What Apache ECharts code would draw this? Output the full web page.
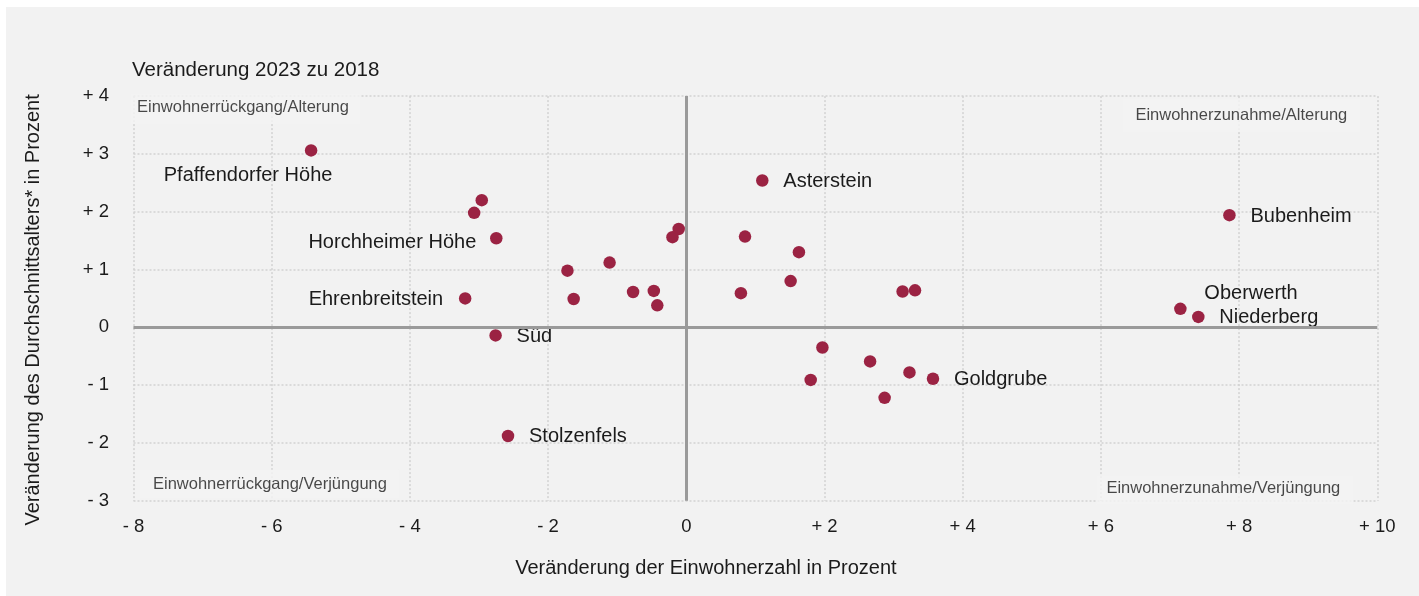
<!DOCTYPE html>
<html lang="de">
<head>
<meta charset="utf-8">
<title>Veränderung 2023 zu 2018</title>
<script src="https://cdn.jsdelivr.net/npm/echarts@6/dist/echarts.min.js"></script>
<style>
  html, body { margin: 0; padding: 0; background: #ffffff; }
  #panel { position: absolute; left: 6px; top: 7px; right: 0; bottom: 0; background: #f2f2f2; }
  #chart { position: absolute; left: 0; top: 0; width: 1419px; height: 596px; }
</style>
</head>
<body>
<div id="panel"></div>
<div id="chart"></div>
<script>
// Stadtteile: Veränderung Einwohnerzahl (x) und Durchschnittsalter (y), in Prozent
const names = [
  'Pfaffendorfer Höhe', '', '', 'Horchheimer Höhe', '', '', 'Ehrenbreitstein', '', '', '', '', '', '',
  'Süd', 'Stolzenfels',
  'Asterstein', '', '', '', '', '', '', '', '', '', 'Goldgrube', '', '',
  'Bubenheim', 'Oberwerth', 'Niederberg'
];
const popChange = [
  -5.43, -2.96, -3.07, -2.75, -1.11, -1.72, -3.20, -1.63, -0.77, -0.47, -0.42, -0.11, -0.20,
  -2.76, -2.58,
  1.10, 0.85, 1.63, 1.51, 0.79, 3.13, 3.31, 1.97, 2.66, 3.23, 3.57, 1.80, 2.87,
  7.86, 7.15, 7.41
];
const ageChange = [
  3.06, 2.20, 1.98, 1.54, 1.12, 0.98, 0.50, 0.49, 0.61, 0.63, 0.38, 1.70, 1.56,
  -0.14, -1.88,
  2.54, 1.57, 1.30, 0.80, 0.59, 0.62, 0.64, -0.35, -0.59, -0.78, -0.89, -0.91, -1.22,
  1.94, 0.32, 0.18
];
// Achsen
const xMin = -8, xMax = 10, xStep = 2;
const yMin = -3, yMax = 4, yStep = 1;
// Quadranten-Beschriftungen: oben links, oben rechts, unten links, unten rechts
const quadrantNames = [
  'Einwohnerrückgang/Alterung', 'Einwohnerzunahme/Alterung',
  'Einwohnerrückgang/Verjüngung', 'Einwohnerzunahme/Verjüngung'
];

const FONT = '"Liberation Sans", Arial, sans-serif';
const INK = '#1b1b1b';
const DOT = '#9b2343';
const PANEL = '#f2f2f2';
const DOT_SIZE = 12.5;

// Vorzeichen mit Leerzeichen, wie im Original ("+ 2", "- 2")
function signed(v) {
  if (v > 0) return '+ ' + v;
  if (v < 0) return '- ' + Math.abs(v);
  return '0';
}

// Beschriftung der Punkte (Abstand zur Punktmitte)
const labelPlace = {
  'Pfaffendorfer Höhe': { align: 'center', offset: [-63, 25] },
  'Horchheimer Höhe':   { align: 'right',  offset: [-20, 4] },
  'Ehrenbreitstein':    { align: 'right',  offset: [-22, 1] },
  'Oberwerth':          { align: 'left',   offset: [24, -15] }
};

let points = popChange.map((x, i) => {
  let place = labelPlace[names[i]] || { align: 'left', offset: [21, 1] };
  return {
    name: names[i],
    value: [x, ageChange[i]],
    label: {
      show: names[i] !== '',
      // Position relativ zur linken oberen Ecke des Symbols
      position: [DOT_SIZE / 2 + place.offset[0], DOT_SIZE / 2 + place.offset[1]],
      align: place.align,
      verticalAlign: 'middle',
      color: INK
    }
  };
});

// Quadranten an den Ecken des Diagramms
const corners = [[xMin, yMax], [xMax, yMax], [xMin, yMin], [xMax, yMin]];
const quadrantStyle = [
  { align: 'left',  verticalAlign: 'top',    offset: [-2.5, -2], padding: [5, 12, 8, 6] },
  { align: 'right', verticalAlign: 'top',    offset: [-17, 3],   padding: [8, 13, 8, 13] },
  { align: 'left',  verticalAlign: 'bottom', offset: [6, -2],    padding: [6, 12, 6, 13.5] },
  { align: 'right', verticalAlign: 'bottom', offset: [-24, 4],   padding: [4, 13, 8, 10] }
];
let quadrants = quadrantNames.map((n, i) => ({
  name: n,
  value: corners[i],
  label: Object.assign({ show: true, position: [0, 0], color: INK, textBorderWidth: 0 }, quadrantStyle[i])
}));

let chart = echarts.init(document.getElementById('chart'));
let option = {
  animation: false,
  backgroundColor: 'transparent',
  textStyle: { fontFamily: FONT, color: INK },
  title: {
    text: 'Veränderung 2023 zu 2018',
    left: 132,
    top: 60,
    padding: 0,
    textStyle: { fontFamily: FONT, fontSize: 20.5, fontWeight: 'normal', color: INK }
  },
  grid: { left: 133.5, right: 41.7, top: 96.1, bottom: 95.3, containLabel: false },
  xAxis: {
    type: 'value',
    min: xMin, max: xMax, interval: xStep,
    name: 'Veränderung der Einwohnerzahl in Prozent',
    nameLocation: 'middle',
    nameGap: 58,
    nameTextStyle: { fontFamily: FONT, fontSize: 20, color: INK, padding: [0, 99, 0, 0] },
    axisLine: { show: false },
    axisTick: { show: false },
    axisLabel: { formatter: signed, fontFamily: FONT, fontSize: 18.5, color: INK, margin: 16.5 },
    splitLine: { show: true, lineStyle: { color: '#d2d2d2', width: 1.5, type: [2, 2] } }
  },
  yAxis: {
    type: 'value',
    min: yMin, max: yMax, interval: yStep,
    name: 'Veränderung des Durchschnittsalters* in Prozent',
    nameLocation: 'middle',
    nameGap: 90,
    nameRotate: 90,
    nameTextStyle: { fontFamily: FONT, fontSize: 20, color: INK, padding: [0, 23, 0, 0] },
    axisLine: { show: false },
    axisTick: { show: false },
    axisLabel: { formatter: signed, fontFamily: FONT, fontSize: 18.5, color: INK, margin: 24.5 },
    splitLine: { show: true, lineStyle: { color: '#d2d2d2', width: 1.5, type: [2, 2] } }
  },
  series: [
    {
      // Nulllinien
      type: 'line',
      data: [],
      z: 1,
      silent: true,
      markLine: {
        silent: true,
        symbol: ['none', 'none'],
        label: { show: false },
        lineStyle: { color: '#9a9a9a', width: 3, type: 'solid' },
        data: [{ xAxis: 0 }, { yAxis: 0 }]
      }
    },
    {
      name: 'Quadranten',
      type: 'scatter',
      symbolSize: 0,
      z: 2,
      silent: true,
      label: {
        fontFamily: FONT, fontSize: 16.5, color: INK,
        backgroundColor: PANEL,
        formatter: p => p.name
      },
      data: quadrants
    },
    {
      name: 'Stadtteile',
      type: 'scatter',
      symbol: 'circle',
      symbolSize: DOT_SIZE,
      z: 3,
      itemStyle: { color: DOT, opacity: 1 },
      label: { fontFamily: FONT, fontSize: 20, color: INK, formatter: p => p.name },
      data: points
    }
  ]
};
chart.setOption(option);
</script>
</body>
</html>
